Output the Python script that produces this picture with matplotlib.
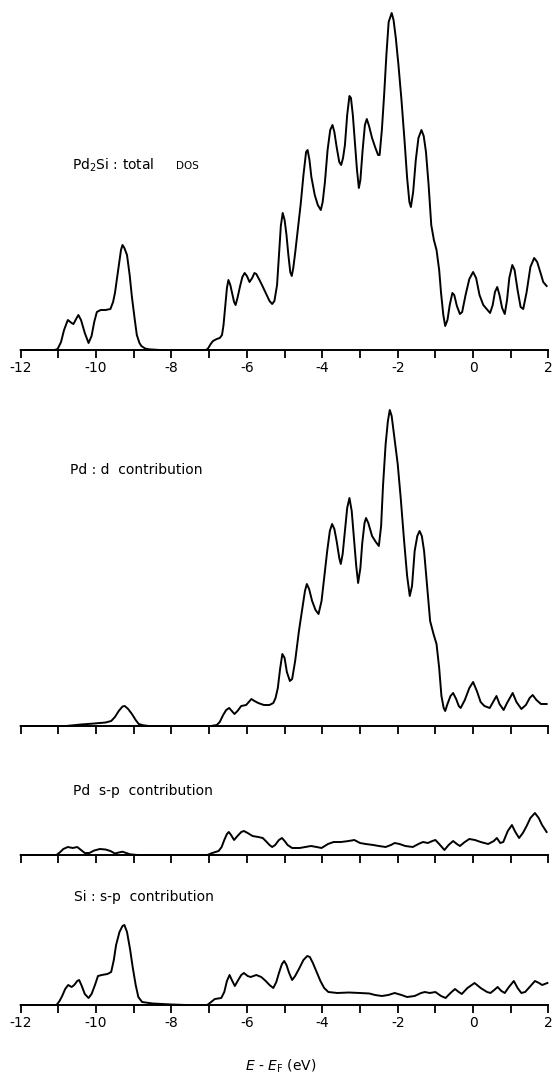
import matplotlib
matplotlib.use("Agg")
import matplotlib.pyplot as plt

# energies (eV, relative to E_F) and DOS heights (arbitrary units, same scale in all panels)
total_e = [-12.0, -11.1, -11.02, -10.93, -10.85, -10.75, -10.65, -10.6, -10.53, -10.47, -10.4, -10.3,
           -10.2, -10.12, -10.05, -9.98, -9.88, -9.75, -9.62, -9.55, -9.5, -9.44, -9.39, -9.34, -9.3,
           -9.25, -9.18, -9.11, -9.05, -8.98, -8.92, -8.85, -8.8, -8.7, -8.6, -8.3, -7.1, -7.04, -6.96,
           -6.9, -6.8, -6.72, -6.66, -6.62, -6.57, -6.53, -6.49, -6.44, -6.4, -6.34, -6.3, -6.25, -6.18,
           -6.12, -6.06, -6.0, -5.93, -5.86, -5.8, -5.75, -5.68, -5.6, -5.5, -5.4, -5.33, -5.27, -5.2,
           -5.15, -5.1, -5.05, -5.0, -4.95, -4.9, -4.85, -4.81, -4.77, -4.72, -4.65, -4.57, -4.5, -4.43,
           -4.39, -4.34, -4.29, -4.2, -4.12, -4.04, -3.99, -3.93, -3.86, -3.79, -3.73, -3.68, -3.62,
           -3.55, -3.5, -3.45, -3.4, -3.34, -3.28, -3.24, -3.19, -3.14, -3.08, -3.03, -2.99, -2.93,
           -2.87, -2.82, -2.76, -2.68, -2.6, -2.52, -2.48, -2.42, -2.36, -2.3, -2.24, -2.16, -2.11,
           -2.05, -1.98, -1.9, -1.82, -1.75, -1.69, -1.65, -1.59, -1.52, -1.45, -1.37, -1.31, -1.25,
           -1.18, -1.11, -1.04, -0.97, -0.9, -0.85, -0.79, -0.74, -0.68, -0.62, -0.55, -0.5, -0.43,
           -0.35, -0.29, -0.2, -0.1, 0.0, 0.08, 0.17, 0.27, 0.36, 0.45, 0.52, 0.58, 0.64, 0.7, 0.77,
           0.84, 0.9, 0.96, 1.04, 1.1, 1.18, 1.26, 1.33, 1.42, 1.52, 1.62, 1.7, 1.79, 1.86, 1.95]
total_dos = [0, 0, 1, 8, 20, 30, 27, 26, 31, 35, 30, 17,
             7, 14, 28, 38, 40, 40, 41, 48, 57, 73, 87, 100, 105,
             102, 95, 75, 53, 32, 15, 7, 4, 1.5, 0.7, 0, 0, 1, 6,
             9, 11, 12, 15, 25, 45, 62, 70, 65, 58, 48, 45, 52, 64,
             73, 77, 74, 68, 72, 77, 76, 71, 65, 57, 49, 46, 49, 65,
             95, 124, 137, 130, 115, 95, 78, 74, 82, 97, 120, 147, 175, 198,
             200, 190, 173, 155, 145, 140, 148, 168, 200, 220, 225, 218, 203,
             188, 185, 192, 205, 235, 254, 252, 235, 210, 180, 162, 170, 200,
             225, 231, 224, 212, 203, 195, 195, 220, 255, 295, 328, 337, 330,
             312, 285, 250, 210, 172, 148, 143, 158, 190, 212, 220, 214, 198,
             165, 125, 110, 100, 80, 57, 35, 24, 30, 45, 57, 55, 44,
             36, 38, 55, 71, 78, 72, 55, 45, 41, 37, 45, 58, 63, 55, 42,
             36, 50, 72, 85, 80, 60, 43, 41, 58, 83, 92, 88, 77, 68, 64]

pd_d_e = [-12.0, -10.8, -10.4, -10.05, -9.75, -9.6, -9.5, -9.4, -9.3, -9.24, -9.15, -9.05, -8.95,
          -8.87, -8.75, -8.6, -6.95, -6.8, -6.72, -6.63, -6.55, -6.47, -6.4, -6.33, -6.25, -6.15,
          -6.02, -5.95, -5.88, -5.8, -5.7, -5.55, -5.4, -5.3, -5.24, -5.18, -5.12, -5.06, -5.0,
          -4.94, -4.86, -4.8, -4.72, -4.62, -4.52, -4.46, -4.41, -4.35, -4.27, -4.18, -4.1, -4.02,
          -3.95, -3.87, -3.8, -3.74, -3.68, -3.62, -3.55, -3.51, -3.46, -3.4, -3.34, -3.28, -3.22,
          -3.16, -3.1, -3.05, -2.99, -2.94, -2.88, -2.84, -2.78, -2.68, -2.58, -2.5, -2.44, -2.39,
          -2.32, -2.26, -2.21, -2.16, -2.1, -2.0, -1.92, -1.83, -1.75, -1.68, -1.62, -1.55, -1.48,
          -1.42, -1.36, -1.3, -1.22, -1.14, -1.05, -0.97, -0.9, -0.84, -0.78, -0.74, -0.68, -0.6,
          -0.53, -0.45, -0.38, -0.33, -0.22, -0.1, 0.0, 0.1, 0.2, 0.3, 0.44, 0.53, 0.62, 0.7, 0.81,
          0.9, 1.05, 1.15, 1.28, 1.4, 1.5, 1.58, 1.68, 1.8, 1.95]
pd_d_dos = [0, 0, 1.5, 2.5, 3.5, 5, 9, 15, 19.5, 20, 17, 12, 6,
            2, 0.7, 0, 0, 1, 4, 11, 16, 18, 15, 12, 15, 20,
            21, 24, 27, 25, 23, 21, 21, 23, 28, 38, 57, 72, 68,
            54, 45, 47, 65, 95, 120, 135, 142, 137, 125, 116, 112, 125,
            148, 175, 195, 202, 197, 185, 168, 162, 172, 195, 218, 228, 215,
            188, 160, 143, 158, 183, 203, 208, 203, 190, 184, 180, 200, 240,
            282, 305, 316, 310, 292, 262, 228, 185, 150, 130, 140, 175, 190,
            195, 190, 175, 140, 105, 92, 82, 58, 30, 18, 15, 22, 30,
            33, 27, 20, 18, 26, 38, 44, 35, 24, 20, 18, 24, 30, 22, 16,
            23, 33, 24, 17, 21, 28, 31, 26, 22, 22]

pd_sp_e = [-12.0, -11.05, -10.95, -10.87, -10.75, -10.62, -10.5, -10.4, -10.3, -10.18, -10.05,
           -9.9, -9.75, -9.62, -9.5, -9.4, -9.3, -9.2, -9.1, -8.9, -7.05, -6.92, -6.75, -6.67,
           -6.6, -6.53, -6.48, -6.42, -6.34, -6.25, -6.15, -6.08, -5.98, -5.85, -5.7, -5.58, -5.5,
           -5.4, -5.33, -5.25, -5.15, -5.07, -5.0, -4.92, -4.8, -4.6, -4.45, -4.3, -4.15, -4.02,
           -3.85, -3.7, -3.5, -3.3, -3.15, -3.0, -2.85, -2.65, -2.5, -2.32, -2.18, -2.08, -1.95,
           -1.8, -1.6, -1.45, -1.33, -1.2, -1.08, -1.0, -0.9, -0.76, -0.65, -0.53, -0.43, -0.35,
           -0.22, -0.1, 0.05, 0.2, 0.4, 0.55, 0.63, 0.72, 0.8, 0.92, 1.03, 1.12, 1.22, 1.32, 1.42,
           1.52, 1.64, 1.74, 1.83, 1.95]
pd_sp_dos = [0, 0, 3, 6, 8, 7, 8, 5, 2, 2, 4.5,
             6, 5.5, 4, 1.5, 2.5, 3.3, 2, 0.7, 0, 0, 2, 4, 8,
             15, 21, 23, 20, 15, 19, 23, 24, 22, 19, 18, 17, 14,
             10, 8, 10, 15, 17, 14, 10, 7, 7, 8, 9, 8, 7,
             11, 13, 13, 14, 15, 12, 11, 10, 9, 8, 10, 12, 11,
             9, 8, 11, 13, 12, 14, 15, 11, 5, 10, 14, 11, 9,
             13, 16, 15, 13, 11, 14, 17, 12, 13, 24, 30, 23, 17, 22, 29,
             37, 42, 37, 30, 23]

si_sp_e = [-12.0, -11.05, -10.97, -10.9, -10.82, -10.74, -10.65, -10.58, -10.5, -10.45, -10.38,
           -10.3, -10.2, -10.12, -10.03, -9.95, -9.85, -9.7, -9.6, -9.53, -9.47, -9.38, -9.3,
           -9.25, -9.18, -9.1, -9.03, -8.95, -8.88, -8.78, -8.5, -8.0, -7.6, -7.05, -6.95, -6.85,
           -6.68, -6.6, -6.53, -6.46, -6.4, -6.32, -6.23, -6.15, -6.08, -5.98, -5.9, -5.75, -5.62,
           -5.5, -5.4, -5.3, -5.22, -5.15, -5.07, -5.01, -4.95, -4.88, -4.8, -4.72, -4.62, -4.5,
           -4.4, -4.33, -4.25, -4.15, -4.05, -3.95, -3.84, -3.6, -3.3, -3.0, -2.75, -2.6, -2.42,
           -2.25, -2.08, -1.9, -1.75, -1.55, -1.38, -1.28, -1.15, -1.0, -0.85, -0.73, -0.6, -0.48,
           -0.38, -0.3, -0.15, 0.04, 0.2, 0.37, 0.46, 0.56, 0.65, 0.75, 0.84, 0.95, 1.08, 1.18,
           1.28, 1.38, 1.5, 1.64, 1.75, 1.83, 1.97]
si_sp_dos = [0, 0, 4, 9, 16, 20, 18, 20, 24, 25, 19,
             11, 7, 11, 20, 29, 30, 31, 33, 45, 60, 73, 79,
             80, 73, 56, 38, 20, 8, 3, 1.5, 0.5, 0, 0, 3, 6,
             7, 13, 24, 30, 25, 19, 25, 30, 32, 29, 28, 30, 28,
             24, 20, 17, 23, 32, 41, 44, 40, 32, 25, 29, 36, 45,
             49, 48, 42, 33, 24, 17, 13, 12, 12.5, 12, 11.5, 10, 9,
             10, 12, 10, 8, 9, 12, 13, 12, 13, 9, 7, 12, 16,
             13, 11, 17, 22, 17, 13, 12, 15, 18, 14, 12, 18, 24, 17,
             12, 13, 18, 24, 22, 20, 22]

panel_titles = ["Pd$_2$Si : total", "Pd : d  contribution",
                "Pd  s-p  contribution", "Si : s-p  contribution"]
tick_values = list(range(-12, 3))
tick_labels = [str(v) if v % 2 == 0 else "" for v in tick_values]

W, H = 559, 1076
fig = plt.figure(figsize=(W / 100, H / 100), dpi=100)
fig.patch.set_facecolor("white")


def px_axes(bottom, height):
    # axes placed from pixel coordinates (measured from the top of the image)
    left, right = 20.7, 548.5
    return fig.add_axes([left / W, 1 - bottom / H, (right - left) / W, height / H])


def style(ax, ymax, labels):
    ax.set_xlim(-12, 2)
    ax.set_ylim(0, ymax)
    for s in ("left", "right", "top"):
        ax.spines[s].set_visible(False)
    ax.spines["bottom"].set_linewidth(1.4)
    ax.set_yticks([])
    ax.set_xticks(tick_values)
    ax.set_xticklabels(tick_labels if labels else [""] * len(tick_values))
    ax.tick_params(axis="x", direction="out", length=6, width=1.3, pad=2,
                   labelsize=10, labelbottom=labels)
    ax.patch.set_alpha(0)


panels = [
    (350, 345, total_e, total_dos, True),
    (726, 332, pd_d_e, pd_d_dos, False),
    (855, 55, pd_sp_e, pd_sp_dos, False),
    (1005, 90, si_sp_e, si_sp_dos, True),
]
for bottom, height, e, dos, labels in panels:
    ax = px_axes(bottom, height)
    ax.plot(e, dos, color="black", lw=1.4, solid_joinstyle="round", clip_on=False)
    style(ax, height, labels)


def ftext(x, y, s, size=10, **kw):
    fig.text(x / W, 1 - y / H, s, va="center", ha="left", fontsize=size, **kw)


ftext(72, 165, panel_titles[0])
ftext(176, 166, "DOS", size=7.5)
ftext(70, 470, panel_titles[1])
ftext(73, 791, panel_titles[2])
ftext(74, 897, panel_titles[3])
fig.text(281 / W, 1 - 1066 / H, r"$E$ - $E_{\mathrm{F}}$ (eV)", ha="center", va="center", fontsize=10)

fig.savefig("out.png", dpi=100, facecolor="white")
